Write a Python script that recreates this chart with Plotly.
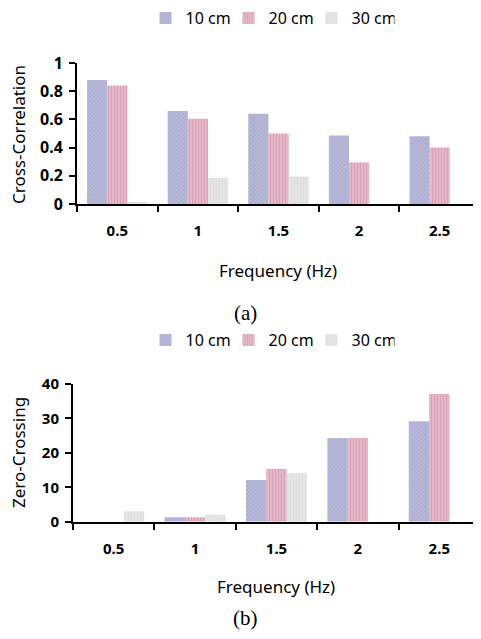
import plotly.graph_objects as go

freq = ["0.5", "1", "1.5", "2", "2.5"]
series = ["10 cm", "20 cm", "30 cm"]
cc_10 = [0.88, 0.66, 0.64, 0.485, 0.48]
cc_20 = [0.84, 0.605, 0.50, 0.295, 0.40]
cc_30 = [0.01, 0.185, 0.195, 0.0, 0.0]
zc_10 = [0, 1.3, 12.1, 24.3, 29.2]
zc_20 = [0, 1.3, 15.3, 24.3, 37.1]
zc_30 = [3.0, 2.0, 14.1, 0, 0]

FONT = "Noto Sans"
styles = {
    "10 cm": dict(color="#b0b0d2", pattern=dict(shape="x", fgcolor="#9898c0", bgcolor="#b8b8d8", size=3, solidity=0.4)),
    "20 cm": dict(color="#dba8bf", pattern=dict(shape="|", fgcolor="#c8809f", bgcolor="#e6bccd", size=3, solidity=0.45)),
    "30 cm": dict(color="#e0e0e0", pattern=dict(shape="|", fgcolor="#d4d4d4", bgcolor="#e6e6e6", size=3, solidity=0.4)),
}

fig = go.Figure()
for name, vals in zip(series, [cc_10, cc_20, cc_30]):
    fig.add_trace(go.Bar(x=freq, y=vals, name=name, marker=styles[name],
                         marker_line_width=0, xaxis="x", yaxis="y", legend="legend"))
for name, vals in zip(series, [zc_10, zc_20, zc_30]):
    fig.add_trace(go.Bar(x=freq, y=vals, name=name, marker=styles[name],
                         marker_line_width=0, xaxis="x2", yaxis="y2", legend="legend2"))

# page body has an 8px margin: figure drawn from (8, 8)
OFF = 8
W, H = 481 - OFF, 639 - OFF
def px_x(p): return (p - OFF) / W
def px_y(p): return 1 - (p - OFF) / H

xcommon = dict(type="category", tickson="boundaries", ticks="outside", ticklen=6, tickwidth=2,
               tickcolor="black", showline=True, linecolor="black", linewidth=2, showgrid=False,
               tickfont=dict(family=FONT, size=15, color="black", weight="bold"),
               ticklabelstandoff=12, zeroline=False, automargin=False)
ycommon = dict(ticks="outside", ticklen=6, tickwidth=2, tickcolor="black", showline=True,
               linecolor="black", linewidth=2, showgrid=False, zeroline=False, automargin=False,
               tickfont=dict(family=FONT, size=16, color="black", weight="bold"), ticklabelstandoff=3)

def label(text, x, y, size=17, family=FONT, angle=0):
    return dict(text=text, x=px_x(x), y=px_y(y), xref="paper", yref="paper",
                xanchor="center", yanchor="middle", textangle=angle, showarrow=False,
                font=dict(family=family, size=size, color="black"))

fig.update_layout(
    width=W, height=H, margin=dict(l=0, r=0, t=0, b=0, autoexpand=False),
    paper_bgcolor="white", plot_bgcolor="white",
    barmode="group", bargap=0.25, bargroupgap=0,
    xaxis=dict(domain=[px_x(77), px_x(480)], anchor="y", **xcommon),
    yaxis=dict(domain=[px_y(204), px_y(63)], range=[0, 1], dtick=0.2, anchor="x", **ycommon),
    xaxis2=dict(domain=[px_x(73), px_x(480)], anchor="y2", **xcommon),
    yaxis2=dict(domain=[px_y(521.7), px_y(384)], range=[0, 40], dtick=10, anchor="x2",
                **{**ycommon, "tickfont": dict(family=FONT, size=15, color="black", weight="bold")}),
    legend=dict(orientation="h", x=px_x(270), y=px_y(18), xanchor="center", yanchor="middle",
                font=dict(family=FONT, size=16, color="black"), itemwidth=30, entrywidth=38,
                bgcolor="rgba(0,0,0,0)"),
    legend2=dict(orientation="h", x=px_x(270), y=px_y(340), xanchor="center", yanchor="middle",
                 font=dict(family=FONT, size=16, color="black"), itemwidth=30, entrywidth=38,
                 bgcolor="rgba(0,0,0,0)"),
    annotations=[
        label("Frequency (Hz)", 278, 270),
        label("(a)", 245, 313, size=21, family="Liberation Serif"),
        label("Cross-Correlation", 18, 135, angle=-90),
        label("Frequency (Hz)", 276, 586),
        label("(b)", 245, 618, size=21, family="Liberation Serif"),
        label("Zero-Crossing", 18, 453, angle=-90),
    ],
)

fig.write_html("out.html")
